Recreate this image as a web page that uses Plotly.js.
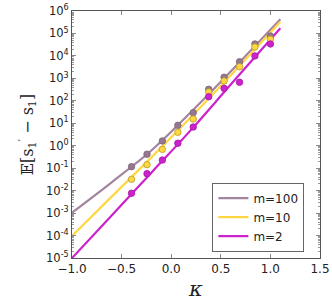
<!DOCTYPE html>
<html><head><meta charset="utf-8">
<script src="https://cdn.plot.ly/plotly-3.0.1.min.js"></script>
<style>html,body{margin:0;padding:0;background:#fff}#plot{width:332px;height:301px}</style>
</head><body><div id="plot"></div>
<script>
// kappa values of the simulated points
const kappa = [-0.4, -0.244, -0.089, 0.067, 0.222, 0.378, 0.533, 0.689, 0.844, 1.0];
const ptsM100 = [0.117, 0.42, 1.63, 8.1, 29.7, 325, 1120, 5500, 34000, 77000];
const ptsM10  = [0.032, 0.144, 0.69, 3.97, 15.5, 247, 765, 3300, 25000, 55000];
const ptsM2   = [0.0076, 0.057, 0.23, 1.29, 6.8, 152, 360, 670, 10000, 34000];
// theoretical curves, read at a few kappa values
const lineKappa = [-1.0, -0.6, -0.2, 0.2, 0.6, 1.1];
const lineM100 = [1.05e-3, 0.0236, 0.614, 31.8, 2030, 4.3e5];
const lineM10  = [9.5e-5, 5.4e-3, 0.303, 19.1, 1390, 3.36e5];
const lineM2   = [1.0e-5, 7.8e-4, 0.063, 5.08, 530, 1.7e5];
const seriesNames = ['m=100', 'm=10', 'm=2'];
const xTickVals = [-1.0, -0.5, 0.0, 0.5, 1.0, 1.5];
const xTickText = ['\u22121.0', '\u22120.5', '0.0', '0.5', '1.0', '1.5'];
const yTickVals = [1e-5, 1e-4, 1e-3, 1e-2, 1e-1, 1e0, 1e1, 1e2, 1e3, 1e4, 1e5, 1e6];
const yTickText = ['10<sup>-5</sup>','10<sup>-4</sup>','10<sup>-3</sup>','10<sup>-2</sup>','10<sup>-1</sup>','10<sup>0</sup>','10<sup>1</sup>','10<sup>2</sup>','10<sup>3</sup>','10<sup>4</sup>','10<sup>5</sup>','10<sup>6</sup>'];

const colors = ['#a3849f', '#ffd743', '#cc22cc'];
const fills = ['#957890', '#ffd743', '#cc22cc'];
const edges = ['#7d6478', '#b59a2a', '#a818a8'];
const lines = [lineM100, lineM10, lineM2];
const pts = [ptsM100, ptsM10, ptsM2];

const traces = [];
for (let i = 0; i < 3; i++) {
  traces.push({x: lineKappa, y: lines[i], mode: 'lines', name: seriesNames[i],
    line: {color: colors[i], width: 2.2, shape: 'spline', smoothing: 1}, showlegend: true, hoverinfo: 'skip'});
}
for (let i = 0; i < 3; i++) {
  traces.push({x: kappa, y: pts[i], mode: 'markers', name: seriesNames[i],
    marker: {color: fills[i], size: 6.5, line: {color: edges[i], width: 0.8}},
    showlegend: false});
}

const axisCommon = {
  showgrid: false, zeroline: false, showline: true, linecolor: '#555', linewidth: 1,
  mirror: 'ticks', ticks: 'inside', tickcolor: '#888', ticklen: 4
};

const layout = {
  width: 332, height: 301,
  margin: {l: 72, r: 12, t: 11, b: 43},
  paper_bgcolor: '#fff', plot_bgcolor: '#fff',
  font: {family: 'DejaVu Sans', color: '#222'},
  xaxis: Object.assign({}, axisCommon, {
    range: [-1.0, 1.5], tickvals: xTickVals, ticktext: xTickText,
    tickfont: {size: 12, family: 'DejaVu Sans', color: '#222'},
    title: {text: '<i>κ</i>', font: {size: 21, family: 'DejaVu Serif', color: '#222'}, standoff: 6}
  }),
  yaxis: Object.assign({}, axisCommon, {
    type: 'log', range: [-5, 6], tickvals: yTickVals, ticktext: yTickText,
    tickfont: {size: 11.5, family: 'DejaVu Sans', color: '#222'},
    minor: {ticks: 'inside', ticklen: 2, tickcolor: '#999', dtick: 'D1', showgrid: false},
    title: {text: '𝔼[s<sub>1</sub><sup>′</sup> − s<sub>1</sub>]', font: {size: 16, family: 'DejaVu Serif', color: '#222'}, standoff: 8}
  }),
  legend: {
    x: 0.937, y: 0.305, xanchor: 'right', yanchor: 'top',
    bgcolor: '#fff', bordercolor: '#666', borderwidth: 1,
    font: {size: 12, family: 'DejaVu Sans', color: '#222'},
    tracegroupgap: 0
  },
  showlegend: true
};

Plotly.newPlot('plot', traces, layout, {staticPlot: true, displayModeBar: false});
</script>
</body></html>
